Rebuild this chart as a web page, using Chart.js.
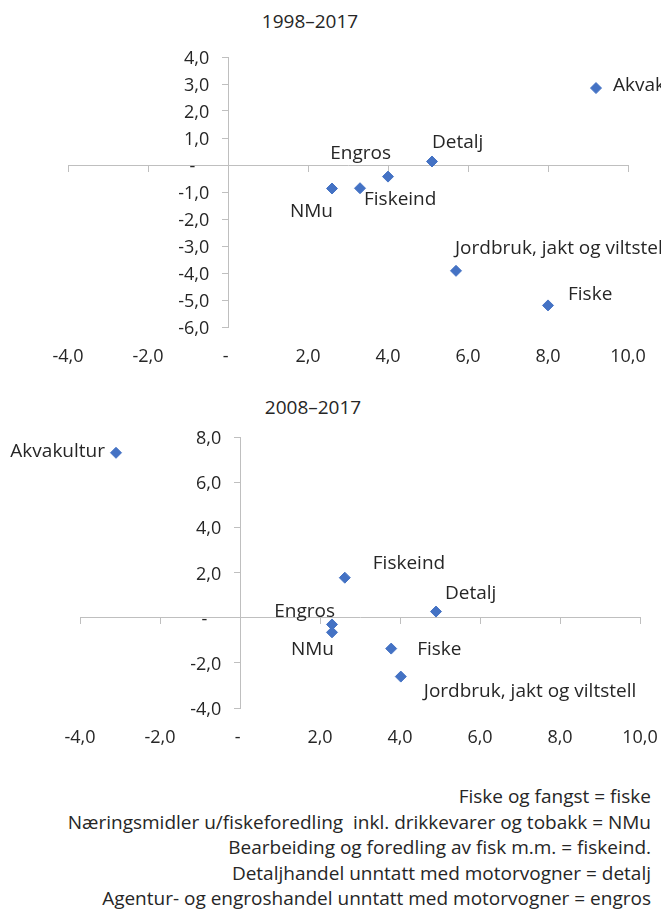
<!DOCTYPE html>
<html><head><meta charset="utf-8">
<script src="https://cdn.jsdelivr.net/npm/chart.js@4/dist/chart.umd.min.js"></script>
<style>
html,body{margin:0;padding:0;background:#fff;}
body{width:661px;height:910px;position:relative;overflow:hidden;font-family:"Open Sans",sans-serif;color:#262626;}
canvas{position:absolute;left:0;}
.title{position:absolute;font-size:19px;line-height:26px;white-space:nowrap;transform:translateX(-50%);}
.notes{position:absolute;right:10px;top:784px;font-size:19px;line-height:25.5px;text-align:right;white-space:pre;}
</style></head><body>
<div class="title" style="left:310px;top:8px">1998–2017</div>
<canvas id="c1" width="661" height="390" style="top:0"></canvas>
<div class="title" style="left:313px;top:394px">2008–2017</div>
<canvas id="c2" width="661" height="390" style="top:380px"></canvas>
<div class="notes">Fiske og fangst = fiske
Næringsmidler u/fiskeforedling  inkl. drikkevarer og tobakk = NMu
Bearbeiding og foredling av fisk m.m. = fiskeind.
Detaljhandel unntatt med motorvogner = detalj
Agentur- og engroshandel unntatt med motorvogner = engros</div>
<script>
// ---- data ----
const xTicks = [-4, -2, 0, 2, 4, 6, 8, 10];
const yTicksA = [-6, -5, -4, -3, -2, -1, 0, 1, 2, 3, 4];
const yTicksB = [-4, -2, 0, 2, 4, 6, 8];

const namesA = ['Akvakultur', 'Detalj', 'Engros', 'Fiskeind', 'NMu', 'Jordbruk, jakt og viltstell', 'Fiske'];
const xA = [9.2, 5.1, 4.0, 3.3, 2.6, 5.7, 8.0];
const yA = [2.85, 0.13, -0.43, -0.86, -0.87, -3.92, -5.2];

const namesB = ['Akvakultur', 'Fiskeind', 'Detalj', 'Engros', 'NMu', 'Fiske', 'Jordbruk, jakt og viltstell'];
const xB = [-3.1, 2.62, 4.9, 2.3, 2.3, 3.78, 4.02];
const yB = [7.3, 1.77, 0.27, -0.3, -0.65, -1.37, -2.61];

// ---- label placement (style, not data) ----
const labelPosA = [[17, -2, 'left'], [0, -19, 'left'], [3, -23, 'right'], [4, 11, 'left'], [1, 23, 'right'], [-1, -22, 'left'], [20, -11, 'left']];
const labelPosB = [[-11, -1, 'right'], [28, -14, 'left'], [9, -18, 'left'], [3, -13, 'right'], [2, 17, 'right'], [26, 1, 'left'], [23, 15, 'left']];

const TEXT = '#262626';
const AXIS = '#bfbfbf';
const BLUE = '#4472C4';
const fmt = v => v === 0 ? '-' : v.toFixed(1).replace('.', ',');
const fmtX = v => v === 0 ? '- ' : fmt(v);
const fmtY = v => fmt(v) + (v === 0 ? '       ' : '    ');

const pointLabels = {
  id: 'pointLabels',
  afterDatasetsDraw(chart, args, opts) {
    const meta = chart.getDatasetMeta(0);
    const ctx = chart.ctx;
    ctx.save();
    ctx.font = '19px "Open Sans"';
    ctx.fillStyle = TEXT;
    ctx.textBaseline = 'middle';
    meta.data.forEach((el, i) => {
      const p = opts.pos[i];
      ctx.textAlign = p[2];
      ctx.fillText(opts.names[i], el.x + p[0], el.y + p[1]);
    });
    ctx.restore();
  }
};

function makeChart(id, names, xs, ys, yTicks, pos, padding) {
  const setTicks = arr => scale => { scale.ticks = arr.map(v => ({ value: v })); };
  return new Chart(document.getElementById(id), {
    type: 'scatter',
    data: { datasets: [{
      data: xs.map((x, i) => ({ x: x, y: ys[i] })),
      pointStyle: 'rectRot', pointRadius: 5.5, pointBorderWidth: 1,
      backgroundColor: BLUE, borderColor: BLUE
    }] },
    options: {
      responsive: false, animation: false, events: [],
      layout: { padding: padding },
      plugins: { legend: { display: false }, tooltip: { enabled: false },
        pointLabels: { names: names, pos: pos } },
      scales: {
        x: {
          type: 'linear', position: 'bottom',
          min: xTicks[0], max: xTicks[xTicks.length - 1],
          afterBuildTicks: setTicks(xTicks),
          afterFit: s => { s.paddingLeft = 0; s.paddingRight = 0; },
          grid: { display: false }, border: { display: false },
          ticks: { callback: fmtX, color: TEXT, padding: 11, autoSkip: false, font: { family: 'Open Sans', size: 18 }, maxRotation: 0 }
        },
        x0: {
          type: 'linear', axis: 'x', position: { y: 0 },
          min: xTicks[0], max: xTicks[xTicks.length - 1],
          afterBuildTicks: setTicks(xTicks),
          afterFit: s => { s.paddingLeft = 0; s.paddingRight = 0; },
          grid: { drawOnChartArea: false, drawTicks: true, tickLength: 6, color: AXIS },
          border: { display: true, color: AXIS, width: 1 },
          ticks: { display: false }
        },
        y: {
          type: 'linear', position: { x: 0 },
          min: yTicks[0], max: yTicks[yTicks.length - 1],
          afterBuildTicks: setTicks(yTicks),
          grid: { drawOnChartArea: false, drawTicks: true, tickLength: 6, color: AXIS },
          border: { display: true, color: AXIS, width: 1 },
          ticks: { callback: fmtY, color: TEXT, autoSkip: false, labelOffset: 2, font: { family: 'Open Sans', size: 18 } }
        }
      }
    },
    plugins: [pointLabels]
  });
}

makeChart('c1', namesA, xA, yA, yTicksA, labelPosA, { left: 68, right: 33, top: 57, bottom: 11.4 });
makeChart('c2', namesB, xB, yB, yTicksB, labelPosB, { left: 80, right: 21, top: 57, bottom: 10.4 });
</script>
</body></html>
